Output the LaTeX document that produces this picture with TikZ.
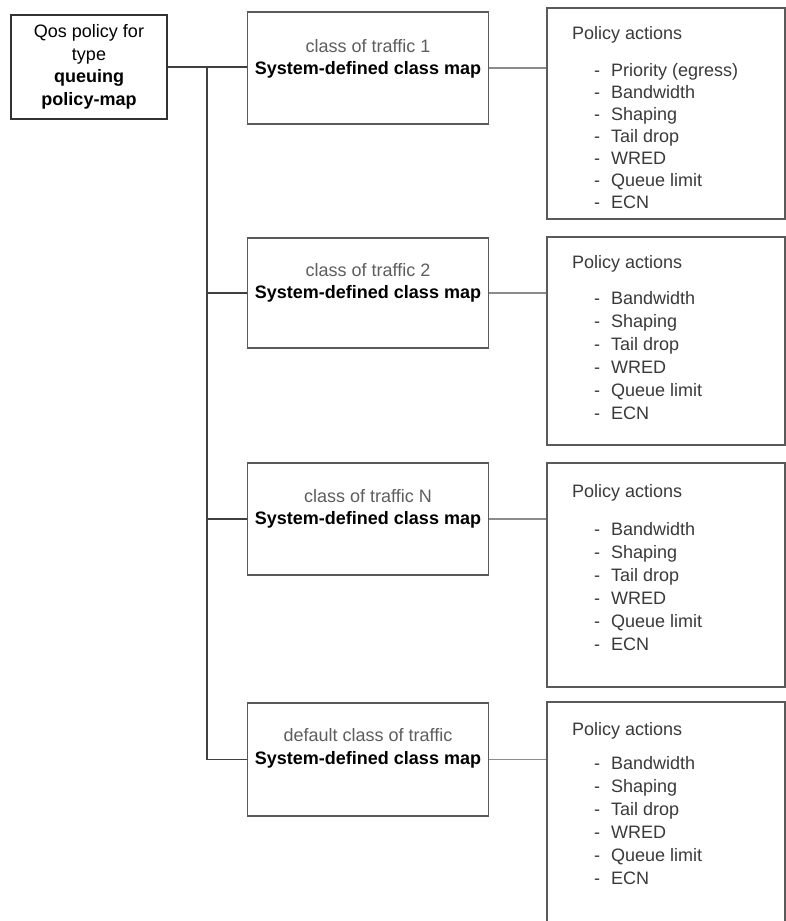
\documentclass[tikz,border=0pt]{standalone}
\usepackage{fontspec}
\setmainfont{Liberation Sans}
\definecolor{boxgray}{HTML}{5A5A5A}
\definecolor{txtgray}{HTML}{5E5E5E}
\definecolor{itemgray}{HTML}{3A3A3A}
\begin{document}
\begin{tikzpicture}[x=1pt,y=-1pt,
  txt/.style={font=\fontsize{18}{22.5}\selectfont},
  rootbox/.style={draw=black!80,line width=1.6pt,minimum width=156pt,minimum height=104pt,
    inner sep=0pt,align=center,txt},
  clsbox/.style={draw=boxgray,line width=1.4pt,minimum width=241pt,minimum height=112pt,inner sep=0pt},
  clstext/.style={txt,align=center,inner sep=0pt},
  polbox/.style={draw=boxgray,line width=1.4pt,minimum width=238pt,inner sep=0pt},
  poltitle/.style={txt,text=itemgray,anchor=base west,inner sep=0pt},
  politem/.style={txt,text=itemgray,anchor=base west,inner sep=0pt},
  trunk/.style={draw=black!75,line width=1.2pt},
  link/.style={draw=black!45,line width=1.2pt}]
  \clip (0,0) rectangle (786,921);
  \fill[white] (0,0) rectangle (786,921);

  % policy-map
  \node[rootbox] (root) at (89,67) {Qos policy for\\type\\\textbf{queuing}\\\textbf{policy-map}};

  % class maps
  \node[clsbox] (cls1) at (368,68) {};
  \node[clsbox, minimum height=110pt] (cls2) at (368,293) {};
  \node[clsbox] (cls3) at (368,519) {};
  \node[clsbox, minimum height=113pt] (cls4) at (368,759.5) {};
  \node[clstext, yshift=9pt] (cls1t) at (cls1.center) {\textcolor{txtgray}{class of traffic 1}\\\textbf{System-defined class map}};
  \node[clstext, yshift=10pt] (cls2t) at (cls2.center) {\textcolor{txtgray}{class of traffic 2}\\\textbf{System-defined class map}};
  \node[clstext, yshift=10pt] (cls3t) at (cls3.center) {\textcolor{txtgray}{class of traffic N}\\\textbf{System-defined class map}};
  \node[clstext, yshift=11pt] (cls4t) at (cls4.center) {\textcolor{txtgray}{default class of traffic}\\\textbf{System-defined class map}};

  % policy actions
  \node[polbox, minimum height=211pt] (pol1) at (666,113.5) {};
  \node[polbox, minimum height=208pt] (pol2) at (666,341) {};
  \node[polbox, minimum height=224pt] (pol3) at (666,575) {};
  \node[polbox, minimum height=240pt] (pol4) at (666,822) {};

  \node[poltitle] (pol1h) at (572,39) {Policy actions};
  \node[poltitle] (pol2h) at (572,268) {Policy actions};
  \node[poltitle] (pol3h) at (572,497) {Policy actions};
  \node[poltitle] (pol4h) at (572,735) {Policy actions};

  \foreach \t [count=\i] in {Priority (egress),Bandwidth,Shaping,Tail drop,WRED,Queue limit,ECN}
    \node[politem] (pol1i\i) at (594,{76+22*(\i-1)}) {\makebox[17pt][l]{-}\t};
  \foreach \t [count=\i] in {Bandwidth,Shaping,Tail drop,WRED,Queue limit,ECN}
    \node[politem] (pol2i\i) at (594,{304+23*(\i-1)}) {\makebox[17pt][l]{-}\t};
  \foreach \t [count=\i] in {Bandwidth,Shaping,Tail drop,WRED,Queue limit,ECN}
    \node[politem] (pol3i\i) at (594,{535+23*(\i-1)}) {\makebox[17pt][l]{-}\t};
  \foreach \t [count=\i] in {Bandwidth,Shaping,Tail drop,WRED,Queue limit,ECN}
    \node[politem] (pol4i\i) at (594,{769+23*(\i-1)}) {\makebox[17pt][l]{-}\t};

  % connectors
  \coordinate (top) at (207,67);
  \draw[trunk] (root.east) -- (root.east -| cls1.west);
  \draw[trunk] (top) |- (cls4.west);
  \draw[trunk] (top |- cls2.west) -- (cls2.west);
  \draw[trunk] (top |- cls3.west) -- (cls3.west);
  \foreach \i in {1,...,4}
    \draw[link] (cls\i.east) -- (cls\i.east -| pol\i.west);
\end{tikzpicture}
\end{document}
